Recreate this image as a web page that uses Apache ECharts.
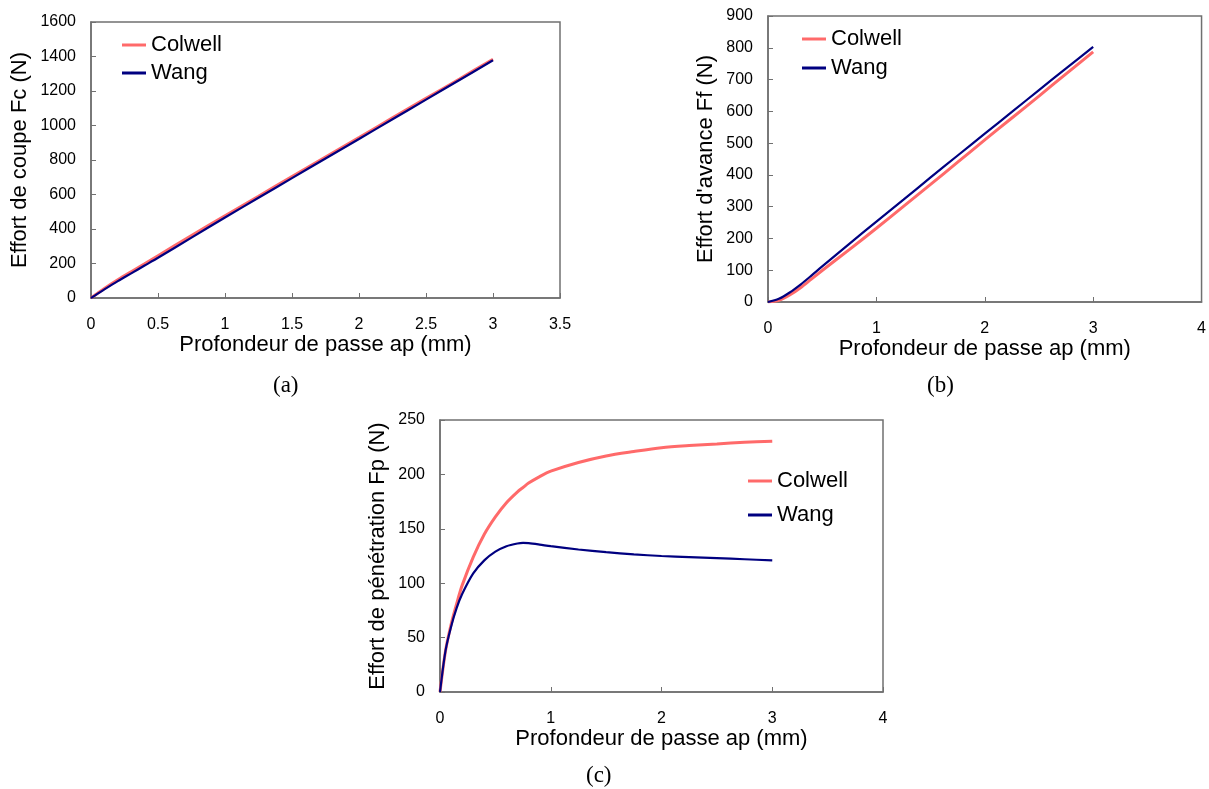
<!DOCTYPE html>
<html>
<head>
<meta charset="utf-8">
<script src="https://cdn.jsdelivr.net/npm/echarts@6/dist/echarts.min.js"></script>
<style>
html,body{margin:0;padding:0;background:#fff;}
#chart{width:1209px;height:789px;}
</style>
</head>
<body>
<div id="chart"></div>
<script>
// ---- Data ----
// (a) Effort de coupe Fc (N)
const apA = [0, 0.05, 0.1, 0.2, 0.3, 0.4, 0.5, 0.75, 1, 1.25, 1.5, 1.75, 2, 2.25, 2.5, 2.75, 3];
const fcColwell = [0, 28, 55, 105, 152, 198, 245, 362, 477, 590, 704, 817, 930, 1044, 1157, 1270, 1384];
const fcWang    = [0, 25, 50, 98, 143, 188, 233, 350, 467, 581, 695, 809, 922, 1036, 1150, 1264, 1378];
// (b) Effort d'avance Ff (N)
const apB = [0, 0.1, 0.2, 0.3, 0.4, 0.5, 0.75, 1, 1.25, 1.5, 1.75, 2, 2.25, 2.5, 2.75, 3];
const ffColwell = [0, 5, 22, 45, 72, 99, 165, 232, 301, 370, 440, 510, 579, 648, 718, 787];
const ffWang    = [0, 10, 30, 55, 83, 112, 183, 253, 322, 392, 461, 530, 598, 667, 735, 803];
// (c) Effort de pénétration Fp (N)
const apC = [0, 0.05, 0.1, 0.15, 0.2, 0.3, 0.4, 0.5, 0.6, 0.7, 0.75, 0.8, 0.9, 1, 1.25, 1.5, 1.75, 2, 2.25, 2.5, 2.75, 3];
const fpColwell = [0, 38, 62, 81, 98, 124, 145, 161, 174, 184, 188, 192, 198, 203, 211, 217, 221, 224.5, 226.5, 228, 229.5, 230.5];
const fpWang    = [0, 38, 60, 77, 90, 109, 121, 129, 134, 136.5, 137, 136.8, 135.5, 134, 131, 128.5, 126.5, 125, 124, 123, 122, 121];

const seriesNames = ['Colwell', 'Wang'];
const xTitle = 'Profondeur de passe ap (mm)';
const yTitles = ['Effort de coupe Fc (N)', "Effort d'avance Ff (N)", 'Effort de pénétration Fp (N)'];
const captions = ['(a)', '(b)', '(c)'];

function pairs(xs, ys) { return xs.map((x, i) => [x, ys[i]]); }

const COL = '#ff6a6a';
const WANG = '#000080';
const AXC = '#707070';
const FONT = '"Liberation Sans", Arial, sans-serif';

const grids = [
  { left: 91, top: 22, width: 469, height: 276 },
  { left: 768, top: 16, width: 434, height: 286 },
  { left: 440, top: 420, width: 443, height: 272 }
];

const xCfg = [
  { max: 3.5, interval: 0.5 },
  { max: 4, interval: 1 },
  { max: 4, interval: 1 }
];
const yCfg = [
  { max: 1600, interval: 200, gap: 60 },
  { max: 900, interval: 100, gap: 51 },
  { max: 250, interval: 50, gap: 51 }
];

const plainNum = v => String(v);

function xAxis(i) {
  return {
    type: 'value', gridIndex: i, min: 0, max: xCfg[i].max, interval: xCfg[i].interval,
    name: xTitle, nameLocation: 'middle', nameGap: 32,
    nameTextStyle: { fontSize: 22, color: '#000', fontFamily: FONT },
    axisLine: { show: true, lineStyle: { color: AXC, width: 1.5 } },
    axisTick: { show: true, inside: true, length: 5, lineStyle: { color: AXC } },
    axisLabel: { fontSize: 16, color: '#000', fontFamily: FONT, margin: 19, formatter: plainNum },
    splitLine: { show: false }
  };
}
function yAxis(i) {
  return {
    type: 'value', gridIndex: i, min: 0, max: yCfg[i].max, interval: yCfg[i].interval,
    name: yTitles[i], nameLocation: 'middle', nameGap: yCfg[i].gap, nameRotate: 90,
    nameTextStyle: { fontSize: 22, color: '#000', fontFamily: FONT },
    axisLine: { show: true, lineStyle: { color: AXC, width: 1.5 } },
    axisTick: { show: true, inside: true, length: 5, lineStyle: { color: AXC } },
    axisLabel: { fontSize: 16, color: '#000', fontFamily: FONT, margin: 15, formatter: plainNum },
    splitLine: { show: false }
  };
}

const dataSets = [
  [pairs(apA, fcColwell), pairs(apA, fcWang)],
  [pairs(apB, ffColwell), pairs(apB, ffWang)],
  [pairs(apC, fpColwell), pairs(apC, fpWang)]
];

const series = [];
dataSets.forEach((ds, i) => {
  series.push({
    name: seriesNames[0], type: 'line', xAxisIndex: i, yAxisIndex: i,
    data: ds[0], symbol: 'none', smooth: 0.3, z: 2,
    lineStyle: { color: COL, width: 3 }, itemStyle: { color: COL }
  });
  series.push({
    name: seriesNames[1], type: 'line', xAxisIndex: i, yAxisIndex: i,
    data: ds[1], symbol: 'none', smooth: 0.3, z: 3,
    lineStyle: { color: WANG, width: 2.2 }, itemStyle: { color: WANG }
  });
});

const legendPos = [
  { left: 122, top: 34, gap: 6 },
  { left: 802, top: 28, gap: 7 },
  { left: 748, top: 470, gap: 12 }
];
const legends = legendPos.map(p => ({
  orient: 'vertical', left: p.left, top: p.top, itemGap: p.gap, padding: 0,
  itemWidth: 24, itemHeight: 3, selectedMode: false, icon: 'rect',
  data: seriesNames,
  textStyle: { fontSize: 22, lineHeight: 22, color: '#000', fontFamily: FONT }
}));

const capPos = [[288, 387], [942, 387], [601, 777]];
const graphic = captions.map((c, i) => ({
  type: 'text', left: capPos[i][0] - 15, top: capPos[i][1] - 13,
  style: { text: c, fontSize: 23, fontFamily: '"Liberation Serif", "Times New Roman", serif', fill: '#000' }
}));

const chart = echarts.init(document.getElementById('chart'), null, { renderer: 'canvas' });
chart.setOption({
  animation: false,
  backgroundColor: '#fff',
  grid: grids.map(g => Object.assign({ show: true, borderColor: AXC, borderWidth: 1.5, backgroundColor: 'transparent' }, g)),
  xAxis: [0, 1, 2].map(xAxis),
  yAxis: [0, 1, 2].map(yAxis),
  legend: legends,
  series: series,
  graphic: graphic
});
</script>
</body>
</html>
